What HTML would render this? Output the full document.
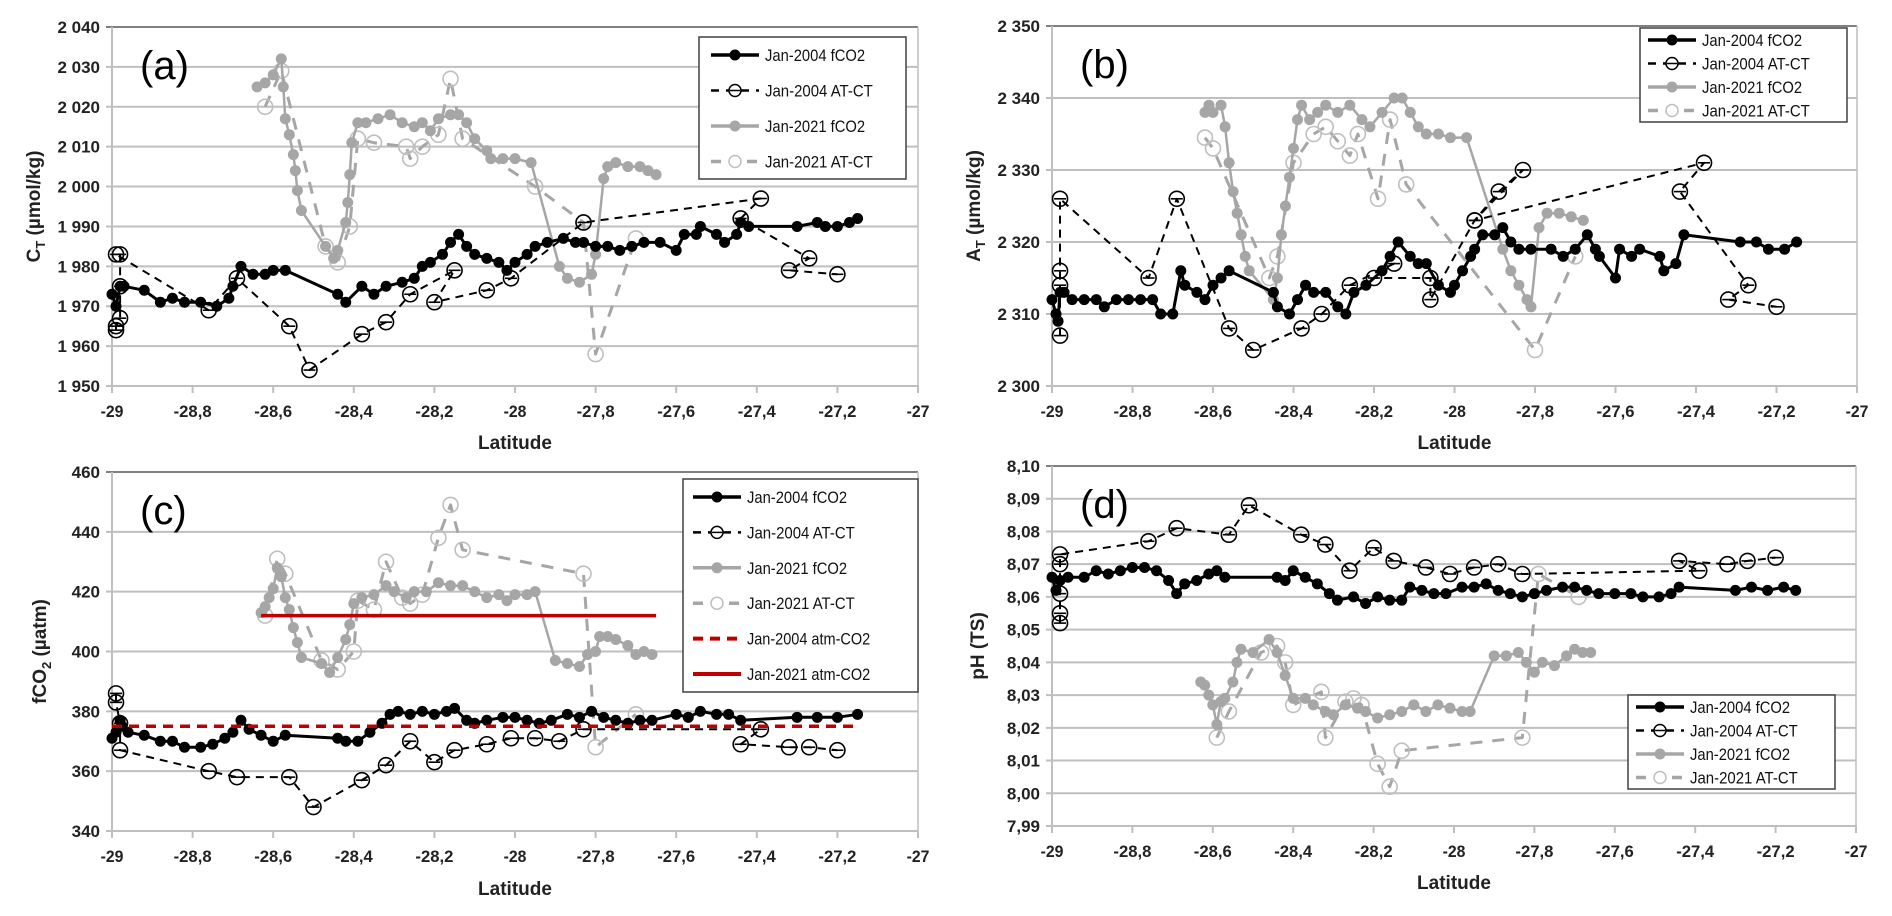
<!DOCTYPE html>
<html><head><meta charset="utf-8">
<style>
html,body{margin:0;padding:0;background:#fff;}
svg{display:block;font-family:"Liberation Sans",sans-serif;}
</style></head>
<body>
<svg id="fig" width="1892" height="916" viewBox="0 0 1892 916" xmlns="http://www.w3.org/2000/svg"></svg>
<script>
// ---- Panel (a) C_T ----
const aFco04Lat=[-29,-28.99,-28.98,-28.97,-28.92,-28.88,-28.85,-28.82,-28.78,-28.74,-28.71,-28.7,-28.68,-28.65,-28.62,-28.6,-28.57,-28.44,-28.42,-28.38,-28.35,-28.32,-28.28,-28.25,-28.23,-28.21,-28.18,-28.16,-28.14,-28.12,-28.1,-28.07,-28.04,-28.02,-28,-27.97,-27.95,-27.92,-27.88,-27.85,-27.83,-27.8,-27.77,-27.74,-27.71,-27.68,-27.64,-27.6,-27.58,-27.55,-27.54,-27.5,-27.48,-27.45,-27.44,-27.42,-27.3,-27.25,-27.23,-27.2,-27.17,-27.15];
const aFco04Val=[1973,1970,1975,1975,1974,1971,1972,1971,1971,1970,1972,1975,1980,1978,1978,1979,1979,1973,1971,1975,1973,1975,1976,1977,1980,1981,1983,1986,1988,1985,1983,1982,1981,1979,1981,1983,1985,1986,1987,1986,1986,1985,1985,1984,1985,1986,1986,1984,1988,1988,1990,1988,1986,1988,1991,1990,1990,1991,1990,1990,1991,1992];
const aAtct04Lat=[-28.99,-28.99,-28.98,-28.98,-28.98,-28.99,-28.76,-28.69,-28.56,-28.51,-28.38,-28.32,-28.26,-28.15,-28.2,-28.07,-28.01,-27.83,-27.39,-27.44,-27.27,-27.32,-27.2];
const aAtct04Val=[1964,1965,1967,1975,1983,1983,1969,1977,1965,1954,1963,1966,1973,1979,1971,1974,1977,1991,1997,1992,1982,1979,1978];
const aFco21Lat=[-28.64,-28.62,-28.6,-28.58,-28.575,-28.57,-28.56,-28.55,-28.545,-28.54,-28.53,-28.47,-28.45,-28.44,-28.42,-28.415,-28.41,-28.405,-28.39,-28.37,-28.34,-28.31,-28.28,-28.25,-28.23,-28.21,-28.19,-28.16,-28.14,-28.12,-28.1,-28.07,-28.06,-28.03,-28,-27.96,-27.89,-27.87,-27.84,-27.81,-27.8,-27.78,-27.77,-27.75,-27.72,-27.69,-27.67,-27.65];
const aFco21Val=[2025,2026,2028,2032,2025,2017,2013,2008,2004,1999,1994,1985,1982,1984,1991,1996,2003,2011,2016,2016,2017,2018,2016,2015,2016,2014,2017,2018,2018,2016,2012,2009,2007,2007,2007,2006,1980,1977,1976,1978,1983,2002,2005,2006,2005,2005,2004,2003];
const aAtct21Lat=[-28.62,-28.58,-28.47,-28.44,-28.41,-28.39,-28.35,-28.27,-28.26,-28.23,-28.19,-28.16,-28.13,-27.95,-27.83,-27.8,-27.7];
const aAtct21Val=[2020,2029,1985,1981,1990,2012,2011,2010,2007,2010,2013,2027,2012,2000,1991,1958,1987];
const aTicks=[1950,1960,1970,1980,1990,2000,2010,2020,2030,2040];
const aTickLabels=["1 950","1 960","1 970","1 980","1 990","2 000","2 010","2 020","2 030","2 040"];

// ---- Panel (b) A_T ----
const bFco04Lat=[-29,-28.99,-28.985,-28.98,-28.97,-28.95,-28.92,-28.89,-28.87,-28.84,-28.81,-28.78,-28.75,-28.73,-28.7,-28.68,-28.67,-28.64,-28.62,-28.6,-28.58,-28.56,-28.45,-28.44,-28.41,-28.39,-28.37,-28.35,-28.32,-28.29,-28.27,-28.25,-28.22,-28.18,-28.16,-28.14,-28.11,-28.09,-28.07,-28.04,-28.01,-28,-27.98,-27.96,-27.95,-27.93,-27.9,-27.88,-27.86,-27.84,-27.81,-27.76,-27.73,-27.7,-27.67,-27.65,-27.64,-27.6,-27.59,-27.56,-27.54,-27.49,-27.48,-27.45,-27.43,-27.29,-27.25,-27.22,-27.18,-27.15];
const bFco04Val=[2312,2310,2309,2313,2313,2312,2312,2312,2311,2312,2312,2312,2312,2310,2310,2316,2314,2313,2312,2314,2315,2316,2313,2311,2310,2312,2314,2313,2313,2311,2310,2313,2314,2316,2318,2320,2318,2317,2317,2314,2313,2314,2316,2318,2319,2321,2321,2322,2320,2319,2319,2319,2318,2319,2321,2319,2318,2315,2319,2318,2319,2318,2316,2317,2321,2320,2320,2319,2319,2320];
const bAtct04Lat=[-28.98,-28.98,-28.98,-28.98,-28.76,-28.69,-28.56,-28.5,-28.38,-28.33,-28.26,-28.15,-28.2,-28.06,-28.06,-27.95,-27.89,-27.83,-27.95,-27.38,-27.44,-27.27,-27.32,-27.2];
const bAtct04Val=[2307,2314,2316,2326,2315,2326,2308,2305,2308,2310,2314,2317,2315,2315,2312,2323,2327,2330,2323,2331,2327,2314,2312,2311];
const bFco21Lat=[-28.62,-28.61,-28.6,-28.58,-28.57,-28.56,-28.55,-28.54,-28.53,-28.52,-28.51,-28.45,-28.44,-28.43,-28.42,-28.41,-28.4,-28.39,-28.38,-28.36,-28.34,-28.32,-28.29,-28.26,-28.23,-28.21,-28.18,-28.15,-28.13,-28.11,-28.09,-28.07,-28.04,-28.01,-27.97,-27.88,-27.86,-27.84,-27.82,-27.81,-27.79,-27.77,-27.74,-27.71,-27.68];
const bFco21Val=[2338,2339,2338,2339,2336,2331,2327,2324,2321,2318,2316,2312,2315,2321,2325,2329,2333,2337,2339,2337,2338,2339,2338,2339,2337,2336,2338,2340,2340,2338,2336,2335,2335,2334.5,2334.5,2319,2316,2314,2312,2311,2322,2324,2324,2323.5,2323];
const bAtct21Lat=[-28.62,-28.6,-28.46,-28.44,-28.4,-28.35,-28.32,-28.29,-28.26,-28.24,-28.19,-28.16,-28.12,-27.8,-27.7];
const bAtct21Val=[2334.5,2333,2315,2318,2331,2335,2336,2334,2332,2335,2326,2337,2328,2305,2318];
const bTicks=[2300,2310,2320,2330,2340,2350];
const bTickLabels=["2 300","2 310","2 320","2 330","2 340","2 350"];

// ---- Panel (c) fCO2 ----
const cFco04Lat=[-29,-28.99,-28.98,-28.975,-28.96,-28.92,-28.88,-28.85,-28.82,-28.78,-28.75,-28.72,-28.7,-28.68,-28.66,-28.63,-28.6,-28.57,-28.44,-28.42,-28.39,-28.36,-28.33,-28.31,-28.29,-28.26,-28.23,-28.2,-28.17,-28.15,-28.12,-28.1,-28.07,-28.03,-28,-27.97,-27.94,-27.91,-27.87,-27.84,-27.81,-27.78,-27.75,-27.72,-27.69,-27.66,-27.6,-27.57,-27.54,-27.5,-27.47,-27.44,-27.3,-27.25,-27.2,-27.15];
const cFco04Val=[371,373,377,375,373,372,370,370,368,368,369,371,373,377,374,372,370,372,371,370,370,373,376,379,380,379,380,379,380,381,377,376,377,378,378,377,376,377,379,378,380,378,377,376,377,377,379,378,380,379,379,377,378,378,378,379];
const cAtct04Lat=[-28.99,-28.99,-28.98,-28.98,-28.76,-28.69,-28.56,-28.5,-28.38,-28.32,-28.26,-28.2,-28.15,-28.07,-28.01,-27.95,-27.89,-27.83,-27.39,-27.44,-27.32,-27.27,-27.2];
const cAtct04Val=[386,383,376,367,360,358,358,348,357,362,370,363,367,369,371,371,370,374,374,369,368,368,367];
const cFco21Lat=[-28.63,-28.62,-28.61,-28.6,-28.59,-28.58,-28.57,-28.56,-28.55,-28.54,-28.53,-28.48,-28.46,-28.44,-28.42,-28.41,-28.4,-28.38,-28.35,-28.32,-28.3,-28.27,-28.25,-28.22,-28.19,-28.16,-28.13,-28.1,-28.07,-28.04,-28.02,-28,-27.97,-27.95,-27.9,-27.87,-27.84,-27.82,-27.8,-27.79,-27.77,-27.75,-27.72,-27.7,-27.68,-27.66];
const cFco21Val=[413,415,418,421,428,425,418,414,408,403,398,396,393,398,404,409,416,418,419,422,420,418,420,420,423,422,422,420,418,419,417,419,419,420,397,396,395,399,400,405,405,404,402,399,400,399];
const cAtct21Lat=[-28.62,-28.59,-28.57,-28.48,-28.44,-28.4,-28.39,-28.35,-28.32,-28.28,-28.26,-28.23,-28.19,-28.16,-28.13,-27.83,-27.8,-27.7];
const cAtct21Val=[412,431,426,397,394,400,417,414,430,418,416,419,438,449,434,426,368,379];
const cAtm04Lat=[-29,-27.15];
const cAtm04Val=[375,375];
const cAtm21Lat=[-28.63,-27.65];
const cAtm21Val=[412,412];
const cTicks=[340,360,380,400,420,440,460];
const cTickLabels=["340","360","380","400","420","440","460"];

// ---- Panel (d) pH ----
const dFco04Lat=[-29,-28.99,-28.98,-28.96,-28.92,-28.89,-28.86,-28.83,-28.8,-28.77,-28.74,-28.71,-28.69,-28.67,-28.64,-28.61,-28.59,-28.57,-28.44,-28.42,-28.4,-28.37,-28.34,-28.31,-28.29,-28.25,-28.22,-28.19,-28.16,-28.13,-28.11,-28.08,-28.05,-28.02,-27.98,-27.95,-27.92,-27.89,-27.86,-27.83,-27.8,-27.77,-27.73,-27.7,-27.67,-27.64,-27.6,-27.56,-27.53,-27.49,-27.46,-27.44,-27.3,-27.26,-27.22,-27.18,-27.15];
const dFco04Val=[8.066,8.062,8.065,8.066,8.066,8.068,8.067,8.068,8.069,8.069,8.068,8.065,8.061,8.064,8.065,8.067,8.068,8.066,8.066,8.065,8.068,8.066,8.064,8.061,8.059,8.06,8.058,8.06,8.059,8.059,8.063,8.062,8.061,8.061,8.063,8.063,8.064,8.062,8.061,8.06,8.061,8.062,8.063,8.063,8.062,8.061,8.061,8.061,8.06,8.06,8.061,8.063,8.062,8.063,8.062,8.063,8.062];
const dAtct04Lat=[-28.98,-28.98,-28.98,-28.98,-28.98,-28.76,-28.69,-28.56,-28.51,-28.38,-28.32,-28.26,-28.2,-28.15,-28.07,-28.01,-27.95,-27.89,-27.83,-27.39,-27.44,-27.32,-27.27,-27.2];
const dAtct04Val=[8.052,8.055,8.061,8.07,8.073,8.077,8.081,8.079,8.088,8.079,8.076,8.068,8.075,8.071,8.069,8.067,8.069,8.07,8.067,8.068,8.071,8.07,8.071,8.072];
const dFco21Lat=[-28.63,-28.62,-28.61,-28.6,-28.59,-28.58,-28.57,-28.55,-28.54,-28.53,-28.5,-28.46,-28.44,-28.42,-28.4,-28.37,-28.35,-28.32,-28.3,-28.27,-28.24,-28.22,-28.19,-28.16,-28.13,-28.1,-28.07,-28.04,-28.01,-27.98,-27.96,-27.9,-27.87,-27.84,-27.82,-27.8,-27.78,-27.75,-27.72,-27.7,-27.68,-27.66];
const dFco21Val=[8.034,8.033,8.03,8.027,8.021,8.028,8.029,8.034,8.04,8.044,8.043,8.047,8.043,8.036,8.029,8.029,8.027,8.025,8.024,8.027,8.026,8.025,8.023,8.024,8.025,8.027,8.025,8.027,8.026,8.025,8.025,8.042,8.042,8.043,8.04,8.037,8.04,8.039,8.042,8.044,8.043,8.043];
const dAtct21Lat=[-28.59,-28.56,-28.48,-28.44,-28.42,-28.4,-28.33,-28.32,-28.27,-28.25,-28.23,-28.19,-28.16,-28.13,-27.83,-27.79,-27.69];
const dAtct21Val=[8.017,8.025,8.043,8.045,8.04,8.027,8.031,8.017,8.028,8.029,8.027,8.009,8.002,8.013,8.017,8.067,8.06];
const dTicks=[7.99,8.00,8.01,8.02,8.03,8.04,8.05,8.06,8.07,8.08,8.09,8.10];
const dTickLabels=["7,99","8,00","8,01","8,02","8,03","8,04","8,05","8,06","8,07","8,08","8,09","8,10"];

const xTicks=[-29,-28.8,-28.6,-28.4,-28.2,-28,-27.8,-27.6,-27.4,-27.2,-27];
const xTickLabels=["-29","-28,8","-28,6","-28,4","-28,2","-28","-27,8","-27,6","-27,4","-27,2","-27"];

const NS="http://www.w3.org/2000/svg";
const svg=document.getElementById('fig');
function mk(tag,attrs,parent){const e=document.createElementNS(NS,tag);for(const k in attrs)e.setAttribute(k,attrs[k]);(parent||svg).appendChild(e);return e;}
function txt(s,attrs,parent){const e=mk('text',attrs,parent);e.textContent=s;return e;}

const BLACK="#000", GRAY="#a6a6a6", GRAYL="#bfbfbf", RED="#c00000";

function drawPanel(p){
  const g=mk('g',{});
  
  
  const xs=v=>p.x0+(v-(-29))/2*(p.x1-p.x0);
  const ys=v=>p.yb-(v-p.ymin)/(p.ymax-p.ymin)*(p.yb-p.yt);
  // gridlines
  p.ticks.forEach((t,i)=>{
    const y=ys(t);
    const l=mk('line',{x1:p.x0-6,x2:p.x1,y1:y,y2:y,stroke:i===p.ticks.length-1?"#808080":"#bfbfbf","stroke-width":2},g);
    
    
    const tl=txt(p.labels[i],{x:p.x0-12,y:y+6,"text-anchor":"end","font-size":17,"font-weight":"bold",fill:"#222"},g);
    
    
  });
  mk('line',{x1:p.x0,x2:p.x0,y1:p.yt,y2:p.yb,stroke:"#bfbfbf","stroke-width":2},g);
  mk('line',{x1:p.x1,x2:p.x1,y1:p.yt,y2:p.yb+6,stroke:"#bfbfbf","stroke-width":1.5},g);
  xTicks.forEach((t,i)=>{
    const x=xs(t);
    mk('line',{x1:x,x2:x,y1:p.yb,y2:p.yb+7,stroke:"#bfbfbf","stroke-width":2},g);
    const tl=txt(xTickLabels[i],{x:x,y:p.yb+31,"text-anchor":"middle","font-size":17,"font-weight":"bold",fill:"#222",textLength:xTickLabels[i].length*7.6,lengthAdjust:"spacingAndGlyphs"},g);
    
    
  });
  const xt=txt("Latitude",{x:(p.x0+p.x1)/2,y:p.latY,"text-anchor":"middle","font-size":19,"font-weight":"bold",fill:"#222"},g);
  
  
  const yt=mk('text',{transform:`translate(${p.ylx},${(p.yt+p.yb)/2}) rotate(-90)`,"text-anchor":"middle","font-size":19,"font-weight":"bold",fill:"#222"},g);
  yt.innerHTML=p.ytitle;
  
  
  const pl=txt(p.tag,{x:p.x0+28,y:p.yt+52,"font-size":40,fill:"#000"},g);
  
  
  // series
  p.series.forEach(s=>{
    const sg=mk('g',{},g);
    
    
    const pts=s.lat.map((v,i)=>xs(v).toFixed(1)+","+ys(s.val[i]).toFixed(1)).join(" ");
    const pline=mk('polyline',{points:pts,fill:"none",stroke:s.color,"stroke-width":s.w,"stroke-dasharray":s.dash||"none","stroke-linejoin":"round"},sg);
    
    
    if(s.marker){
      s.lat.forEach((v,i)=>{
        const cx=xs(v),cy=ys(s.val[i]);
        if(s.marker==="fill"){
          const c=mk('circle',{cx:cx,cy:cy,r:5.5,fill:s.color},sg);
          
          
        } else {
          const c=mk('circle',{cx:cx,cy:cy,r:7.5,fill:"none",stroke:s.mcolor,"stroke-width":1.6},sg);
          
          
          if(s.bar) mk('line',{x1:cx-6,x2:cx+6,y1:cy,y2:cy,stroke:s.mcolor,"stroke-width":1.6},sg);
        }
      });
    }
  });
  // legend
  const L=p.legend;
  const lg=mk('g',{},g);
  
  
  mk('rect',{x:L.x,y:L.y,width:L.w,height:L.h,fill:"#fff",stroke:"#404040","stroke-width":1.5},lg);
  L.items.forEach((it,i)=>{
    const cy=L.y+L.r0+i*L.dy;
    const e=mk('g',{},lg);
    
    
    const lx=L.x+L.sx;
    mk('line',{x1:lx,x2:lx+48,y1:cy,y2:cy,stroke:it.color,"stroke-width":it.w,"stroke-dasharray":it.dash||"none"},e);
    if(it.marker==="fill") mk('circle',{cx:lx+24,cy:cy,r:5.5,fill:it.color},e);
    if(it.marker==="open"){mk('circle',{cx:lx+24,cy:cy,r:6,fill:"#fff",stroke:it.mcolor,"stroke-width":1.5},e); if(it.bar) mk('line',{x1:lx+19,x2:lx+29,y1:cy,y2:cy,stroke:it.mcolor,"stroke-width":1.5},e);}
    txt(it.label,{x:lx+54,y:cy+6,"font-size":17,fill:"#111",textLength:it.label.length*7.7,lengthAdjust:"spacingAndGlyphs"},e);
  });
}

const leg4=[
 {label:"Jan-2004 fCO2",color:BLACK,w:3.5,marker:"fill"},
 {label:"Jan-2004 AT-CT",color:BLACK,w:2.5,dash:"8,7",marker:"open",mcolor:BLACK,bar:true},
 {label:"Jan-2021 fCO2",color:GRAY,w:3.5,marker:"fill"},
 {label:"Jan-2021 AT-CT",color:GRAY,w:3.5,dash:"10,8",marker:"open",mcolor:GRAYL}
];
function ser(name,lat,val,kind){
  if(kind==="f04") return {name,lat,val,color:BLACK,w:3,marker:"fill"};
  if(kind==="a04") return {name,lat,val,color:BLACK,w:2,dash:"8,6",marker:"open",mcolor:BLACK,bar:true};
  if(kind==="f21") return {name,lat,val,color:GRAY,w:2.5,marker:"fill"};
  return {name,lat,val,color:GRAY,w:3,dash:"12,10",marker:"open",mcolor:GRAYL};
}

drawPanel({id:"a",tag:"(a)",x0:112,x1:918,yt:27,yb:386,ymin:1950,ymax:2040,ticks:aTicks,labels:aTickLabels,latY:449,ylx:40,
 ytitle:'C<tspan font-size="13" dy="5">T</tspan><tspan dy="-5"> (µmol/kg)</tspan>',
 series:[ser("jan2021-atct",aAtct21Lat,aAtct21Val,"a21"),ser("jan2021-fco2",aFco21Lat,aFco21Val,"f21"),ser("jan2004-atct",aAtct04Lat,aAtct04Val,"a04"),ser("jan2004-fco2",aFco04Lat,aFco04Val,"f04")],
 legend:{x:699,y:37,w:207,h:142,sx:12,r0:18,dy:35.5,items:leg4}});
drawPanel({id:"b",tag:"(b)",x0:1052,x1:1857,yt:26,yb:386,ymin:2300,ymax:2350,ticks:bTicks,labels:bTickLabels,latY:449,ylx:980,
 ytitle:'A<tspan font-size="13" dy="5">T</tspan><tspan dy="-5"> (µmol/kg)</tspan>',
 series:[ser("jan2021-atct",bAtct21Lat,bAtct21Val,"a21"),ser("jan2021-fco2",bFco21Lat,bFco21Val,"f21"),ser("jan2004-atct",bAtct04Lat,bAtct04Val,"a04"),ser("jan2004-fco2",bFco04Lat,bFco04Val,"f04")],
 legend:{x:1640,y:28,w:207,h:94,sx:8,r0:12,dy:23.5,items:leg4}});
drawPanel({id:"c",tag:"(c)",x0:112,x1:918,yt:472,yb:831,ymin:340,ymax:460,ticks:cTicks,labels:cTickLabels,latY:895,ylx:46,
 ytitle:'fCO<tspan font-size="13" dy="5">2</tspan><tspan dy="-5"> (µatm)</tspan>',
 series:[ser("jan2021-atct",cAtct21Lat,cAtct21Val,"a21"),ser("jan2021-fco2",cFco21Lat,cFco21Val,"f21"),ser("jan2004-atct",cAtct04Lat,cAtct04Val,"a04"),ser("jan2004-fco2",cFco04Lat,cFco04Val,"f04"),
  {name:"jan2004-atm-co2",lat:cAtm04Lat,val:cAtm04Val,color:RED,w:3.5,dash:"10,7"},
  {name:"jan2021-atm-co2",lat:cAtm21Lat,val:cAtm21Val,color:RED,w:3.5}],
 legend:{x:683,y:479,w:235,h:213,sx:10,r0:18,dy:35.4,items:leg4.concat([
  {label:"Jan-2004 atm-CO2",color:RED,w:4,dash:"10,7"},
  {label:"Jan-2021 atm-CO2",color:RED,w:4}])}});
drawPanel({id:"d",tag:"(d)",x0:1052,x1:1856,yt:466,yb:826,ymin:7.99,ymax:8.10,ticks:dTicks,labels:dTickLabels,latY:889,ylx:984,
 ytitle:'pH (TS)',
 series:[ser("jan2021-atct",dAtct21Lat,dAtct21Val,"a21"),ser("jan2021-fco2",dFco21Lat,dFco21Val,"f21"),ser("jan2004-atct",dAtct04Lat,dAtct04Val,"a04"),ser("jan2004-fco2",dFco04Lat,dFco04Val,"f04")],
 legend:{x:1628,y:695,w:207,h:94,sx:8,r0:12,dy:23.5,items:leg4}});
</script>
</body></html>
